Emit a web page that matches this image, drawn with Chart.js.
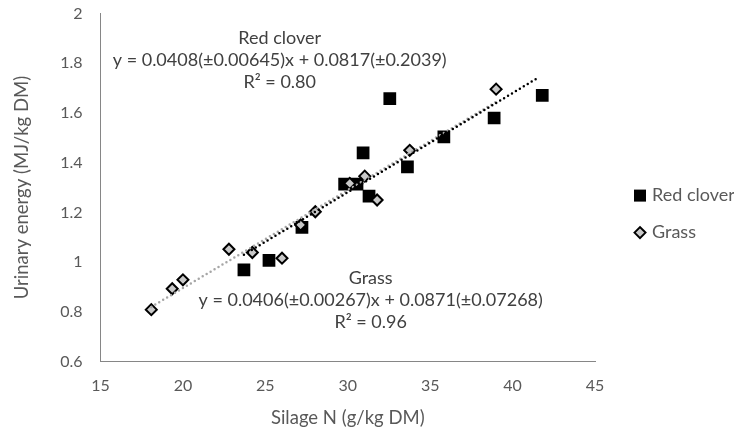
<!DOCTYPE html>
<html>
<head>
<meta charset="utf-8">
<script src="https://cdn.jsdelivr.net/npm/chart.js@4.4.1/dist/chart.umd.min.js"></script>
<style>
  body { margin: 0; background: #fff; }
  #wrap { width: 734px; height: 434px; }
</style>
</head>
<body>
<div id="wrap"><canvas id="chart" width="734" height="434"></canvas></div>
<script>
// Red clover observations (silage N g/kg DM, urinary energy MJ/kg DM)
const redX = [23.70, 25.22, 27.22, 29.81, 30.56, 30.93, 31.29, 32.55, 33.62, 35.83, 38.88, 41.80];
const redY = [0.969, 1.007, 1.140, 1.314, 1.314, 1.440, 1.266, 1.658, 1.383, 1.504, 1.580, 1.671];

// Grass observations
const grassX = [18.08, 19.35, 20.00, 22.79, 24.21, 26.01, 27.14, 28.03, 30.12, 31.03, 31.78, 33.76, 39.00];
const grassY = [0.809, 0.893, 0.929, 1.052, 1.039, 1.016, 1.150, 1.203, 1.317, 1.346, 1.250, 1.450, 1.696];

// Trendline end points as drawn
const redTrendX = [23.70, 41.50];
const redTrendY = [1.030, 1.740];
const grassTrendX = [18.08, 39.00];
const grassTrendY = [0.820, 1.645];

// Axis ticks
const xTicks = [15, 20, 25, 30, 35, 40, 45];
const yTicks = [0.6, 0.8, 1, 1.2, 1.4, 1.6, 1.8, 2];

// Regression labels
const redLabel = ['Red clover', 'y = 0.0408(\u00b10.00645)x + 0.0817(\u00b10.2039)', 'R\u00b2 = 0.80'];
const grassLabel = ['Grass', 'y = 0.0406(\u00b10.00267)x + 0.0871(\u00b10.07268)', 'R\u00b2 = 0.96'];
const redLabelAt = [25.87, 1.90];
const grassLabelAt = [31.39, 0.937];

const FONT = 'Lato, "Open Sans", sans-serif';
const TEXT = '#595959';

function toPoints(xs, ys) {
    return xs.map((x, i) => ({ x: x, y: ys[i] }));
}

/**
 * Draws the regression equations and the legend on the right
 */
const labelPlugin = {
    id: 'labelPlugin',
    afterDraw: function(chart) {
        const ctx = chart.ctx;
        const xs = chart.scales.x;
        const ys = chart.scales.y;

        ctx.save();
        ctx.fillStyle = '#404040';
        ctx.font = '18px ' + FONT;
        ctx.textAlign = 'center';
        ctx.textBaseline = 'middle';
        [[redLabel, redLabelAt], [grassLabel, grassLabelAt]].forEach(([lines, at]) => {
            const cx = xs.getPixelForValue(at[0]);
            const cy = ys.getPixelForValue(at[1]);
            lines.forEach((line, i) => ctx.fillText(line, cx, cy + i * 22));
        });

        // Legend
        const lx = chart.chartArea.right + 45;
        const ly = chart.chartArea.top + 182;
        ctx.fillStyle = '#000';
        ctx.fillRect(lx - 6, ly - 6, 12, 12);

        ctx.beginPath();
        ctx.moveTo(lx - 5.5, ly + 37);
        ctx.lineTo(lx, ly + 31.5);
        ctx.lineTo(lx + 5.5, ly + 37);
        ctx.lineTo(lx, ly + 42.5);
        ctx.closePath();
        ctx.fillStyle = '#c8c8c8';
        ctx.fill();
        ctx.lineWidth = 2;
        ctx.strokeStyle = '#000';
        ctx.stroke();

        ctx.fillStyle = TEXT;
        ctx.textAlign = 'left';
        ctx.fillText('Red clover', lx + 12, ly);
        ctx.fillText('Grass', lx + 12, ly + 37);
        ctx.restore();
    }
};

const ctx = document.getElementById('chart').getContext('2d');
new Chart(ctx, {
    type: 'scatter',
    data: {
        datasets: [
            {
                label: 'Red clover trend',
                type: 'line',
                data: toPoints(redTrendX, redTrendY),
                borderColor: '#000',
                borderWidth: 2.5,
                borderDash: [0, 4.6],
                borderCapStyle: 'round',
                pointRadius: 0,
                fill: false,
                order: 0
            },
            {
                label: 'Grass trend',
                type: 'line',
                data: toPoints(grassTrendX, grassTrendY),
                borderColor: '#a6a6a6',
                borderWidth: 2.5,
                borderDash: [0, 4.6],
                borderCapStyle: 'round',
                pointRadius: 0,
                fill: false,
                order: 1
            },
            {
                label: 'Grass',
                data: toPoints(grassX, grassY),
                pointStyle: 'rectRot',
                pointRadius: 5.5,
                backgroundColor: '#c8c8c8',
                borderColor: '#000',
                borderWidth: 2,
                order: 2
            },
            {
                label: 'Red clover',
                data: toPoints(redX, redY),
                pointStyle: 'rect',
                pointRadius: 9,
                backgroundColor: '#000',
                borderColor: '#000',
                borderWidth: 0,
                order: 3
            }
        ]
    },
    options: {
        responsive: false,
        animation: false,
        layout: {
            padding: { top: 0, right: 139, bottom: 0, left: 0 }
        },
        plugins: {
            legend: { display: false },
            tooltip: { enabled: false }
        },
        scales: {
            x: {
                type: 'linear',
                min: 15,
                max: 45,
                afterBuildTicks: function(axis) {
                    axis.ticks = xTicks.map(v => ({ value: v }));
                },
                ticks: {
                    color: TEXT,
                    font: { family: FONT, size: 16 },
                    padding: 15
                },
                grid: { display: false, drawTicks: false },
                border: { display: true, color: '#868686', width: 1 },
                title: {
                    display: true,
                    text: 'Silage N (g/kg DM)',
                    color: TEXT,
                    font: { family: FONT, size: 18.5 },
                    padding: { top: -4, bottom: 5 }
                }
            },
            y: {
                type: 'linear',
                min: 0.6,
                max: 2,
                afterBuildTicks: function(axis) {
                    axis.ticks = yTicks.map(v => ({ value: v }));
                },
                ticks: {
                    color: TEXT,
                    font: { family: FONT, size: 16 },
                    padding: 4,
                    callback: function(value) {
                        return String(Math.round(value * 10) / 10);
                    }
                },
                // hidden tick marks only reserve the gap between labels and axis
                grid: { display: false, drawTicks: true, tickLength: 14 },
                border: { display: true, color: '#868686', width: 1 },
                title: {
                    display: true,
                    text: 'Urinary energy (MJ/kg DM)',
                    color: TEXT,
                    font: { family: FONT, size: 18.5 },
                    padding: { top: 11, bottom: 23 }
                }
            }
        }
    },
    plugins: [labelPlugin]
});
</script>
</body>
</html>
